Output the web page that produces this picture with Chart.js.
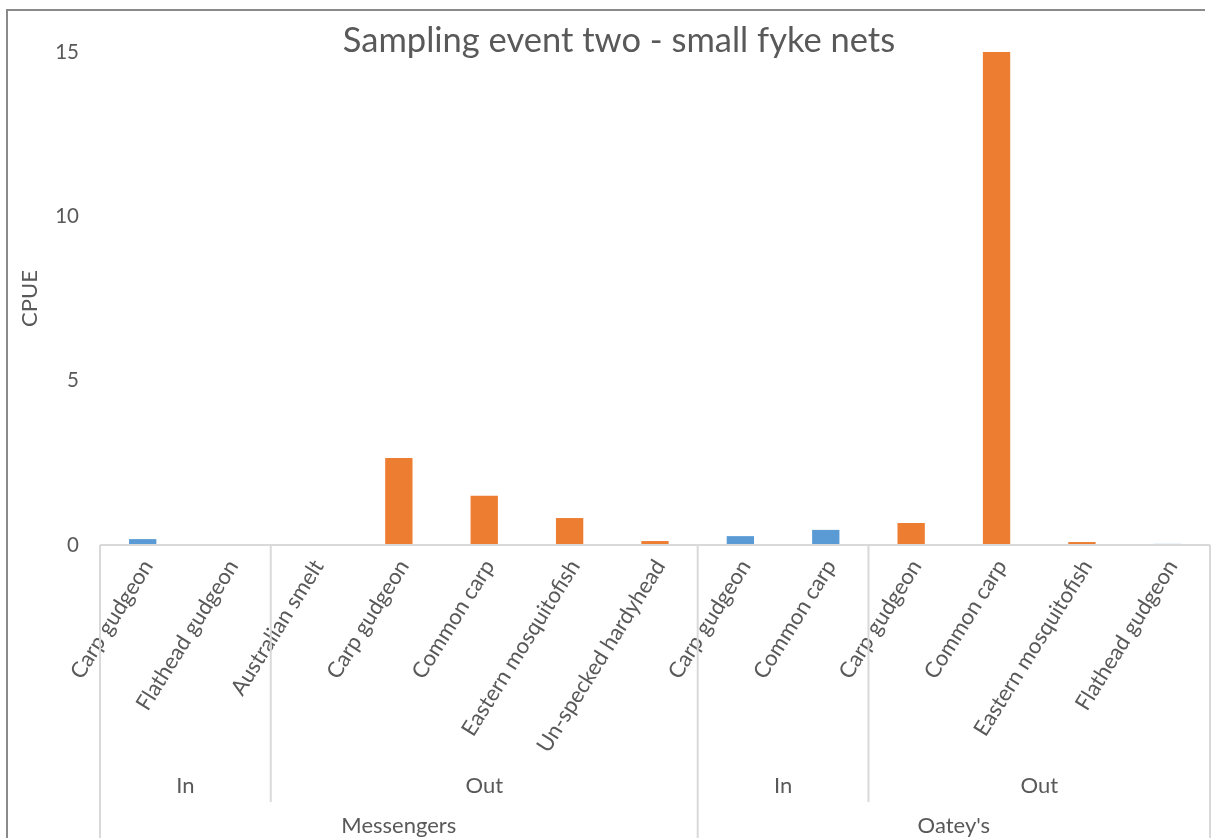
<!DOCTYPE html>
<html>
<head>
<meta charset="utf-8">
<script src="https://cdn.jsdelivr.net/npm/chart.js@4.4.1/dist/chart.umd.min.js"></script>
<style>
  body { margin: 0; background: #fff; }
  #wrap { position: absolute; left: 0; top: 0; width: 1215px; height: 838px; }
  #frame { position: absolute; left: 6px; top: 9px; width: 1199px; height: 829px;
           border-left: 2px solid #8a8a8a; border-top: 2px solid #8a8a8a; box-sizing: border-box; pointer-events: none; }
</style>
</head>
<body>
<div id="wrap"><canvas id="grafico" width="1215" height="838"></canvas></div>
<div id="frame"></div>
<script>
// categorias (especie / lado da rede / local)
var especies = ['Carp gudgeon', 'Flathead gudgeon', 'Australian smelt', 'Carp gudgeon', 'Common carp',
  'Eastern mosquitofish', 'Un-specked hardyhead', 'Carp gudgeon', 'Common carp', 'Carp gudgeon',
  'Common carp', 'Eastern mosquitofish', 'Flathead gudgeon'];
var lados = ['In', 'In', 'Out', 'Out', 'Out', 'Out', 'Out', 'In', 'In', 'Out', 'Out', 'Out', 'Out'];
var locais = ['Messengers', 'Messengers', 'Messengers', 'Messengers', 'Messengers', 'Messengers', 'Messengers',
  "Oatey's", "Oatey's", "Oatey's", "Oatey's", "Oatey's", "Oatey's"];
var cpue = [0.18, 0, 0, 2.65, 1.5, 0.82, 0.12, 0.27, 0.46, 0.67, 15, 0.09, 0.04];
var cores = ['#5b9bd5', '#5b9bd5', '#ed7d31', '#ed7d31', '#ed7d31', '#ed7d31', '#ed7d31',
  '#5b9bd5', '#5b9bd5', '#ed7d31', '#ed7d31', '#ed7d31', '#c2d8ef'];
var ticksY = [0, 5, 10, 15];

var corTexto = '#595959';
var corLinha = '#d9d9d9';
var fonte = 'Lato';

// desenha a tabela de categorias em varios niveis abaixo do eixo x
var eixoMultinivel = {
  id: 'eixoMultinivel',
  afterDraw: function (chart) {
    var ctx = chart.ctx;
    var area = chart.chartArea;
    var x = chart.scales.x;
    var base = area.bottom;
    var fundo = chart.height;
    var meio = base + 257;

    function limite(i) {
      if (i <= 0) return area.left;
      if (i >= especies.length) return area.right;
      return (x.getPixelForValue(i - 1) + x.getPixelForValue(i)) / 2;
    }

    ctx.save();
    ctx.strokeStyle = corLinha;
    ctx.lineWidth = 2;
    ctx.beginPath();
    ctx.moveTo(area.left, base);
    ctx.lineTo(area.right, base);
    ctx.stroke();

    ctx.fillStyle = corTexto;
    ctx.font = '22px ' + fonte;
    ctx.textAlign = 'center';
    ctx.textBaseline = 'middle';

    // grupos In / Out
    var ini = 0;
    for (var i = 1; i <= especies.length; i++) {
      if (i === especies.length || lados[i] !== lados[ini] || locais[i] !== locais[ini]) {
        var a = limite(ini), b = limite(i);
        ctx.fillText(lados[ini], (a + b) / 2, base + 241);
        if (i < especies.length && locais[i] === locais[ini]) {
          ctx.beginPath();
          ctx.moveTo(b, base);
          ctx.lineTo(b, meio);
          ctx.stroke();
        }
        ini = i;
      }
    }

    // locais
    ini = 0;
    for (var j = 1; j <= especies.length; j++) {
      if (j === especies.length || locais[j] !== locais[ini]) {
        var c = limite(ini), d = limite(j);
        ctx.fillText(locais[ini], (c + d) / 2, base + 281);
        ini = j;
      }
    }
    var bordas = [0, locais.indexOf("Oatey's"), especies.length];
    bordas.forEach(function (k) {
      var px = limite(k);
      ctx.beginPath();
      ctx.moveTo(px, base);
      ctx.lineTo(px, fundo);
      ctx.stroke();
    });

    // titulo
    ctx.font = '34.5px ' + fonte;
    ctx.fillText('Sampling event two - small fyke nets', 619, 41);
    ctx.restore();
  }
};

var ctx = document.getElementById('grafico').getContext('2d');
var grafico = new Chart(ctx, {
  type: 'bar',
  data: {
    labels: especies,
    datasets: [{
      label: 'CPUE',
      data: cpue,
      backgroundColor: cores,
      borderWidth: 0,
      barPercentage: 0.32,
      categoryPercentage: 1
    }]
  },
  options: {
    responsive: false,
    animation: false,
    layout: { padding: { top: 52, right: 5, left: 0, bottom: 0 } },
    plugins: {
      legend: { display: false },
      tooltip: { enabled: false },
      title: { display: false }
    },
    scales: {
      x: {
        grid: { display: false, drawTicks: false },
        border: { display: false },
        ticks: {
          autoSkip: false,
          maxRotation: 58,
          minRotation: 58,
          padding: 10,
          labelOffset: 5,
          color: corTexto,
          font: { family: fonte, size: 22 }
        },
        afterFit: function (s) { s.height = 293; }
      },
      y: {
        min: 0,
        max: 15,
        grid: { display: false, drawTicks: false },
        border: { display: false },
        afterBuildTicks: function (s) { s.ticks = ticksY.map(function (v) { return { value: v }; }); },
        ticks: {
          padding: 21,
          color: corTexto,
          font: { family: fonte, size: 20.5 }
        },
        title: {
          display: true,
          text: 'CPUE',
          color: corTexto,
          font: { family: fonte, size: 22 },
          padding: { top: 17, bottom: 0 }
        },
        afterFit: function (s) { s.width = 100; }
      }
    }
  },
  plugins: [eixoMultinivel]
});
</script>
</body>
</html>
